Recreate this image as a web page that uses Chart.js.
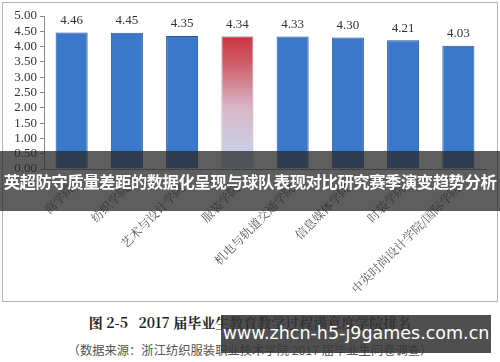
<!DOCTYPE html>
<html lang="zh-CN">
<head>
<meta charset="UTF-8">
<title>学院排名</title>
<script src="https://cdn.jsdelivr.net/npm/chart.js"></script>
<style>
  html, body { margin: 0; padding: 0; background: #fff; }
  body { width: 500px; height: 362px; position: relative; overflow: hidden; font-family: "Noto Sans CJK SC", sans-serif; }
  .frame { position: absolute; left: 2px; top: 2px; width: 494px; height: 298px; border: 1px solid #b5b5b5; }
  .frame canvas { position: absolute; left: 0; top: 0; }
  .banner { position: absolute; left: 0; top: 151px; width: 500px; height: 60px; background: rgba(40,40,40,0.75);
            color: #fff; font-weight: bold; font-size: 16.4px; line-height: 60px; text-align: center; white-space: nowrap; letter-spacing: -0.5px; }
  .caption { position: absolute; left: 0; top: 312px; width: 500px; text-align: center; font-family: "Noto Serif CJK SC", "Liberation Serif", "Noto Sans CJK SC", serif;
             font-weight: bold; font-size: 14px; color: #222; white-space: nowrap; }
  .source { position: absolute; left: 0; top: 341px; width: 500px; text-align: center; font-size: 12.3px; color: #555; white-space: nowrap; }
  .mark { position: absolute; left: 221px; top: 315px; width: 270px; height: 38px; background: rgba(55,55,55,0.88);
          color: #fff; font-family: "DejaVu Sans", sans-serif; font-size: 17.5px; line-height: 36px; text-align: center; white-space: nowrap; }
</style>
</head>
<body>
<div class="frame"><canvas id="chart" width="494" height="298"></canvas></div>
<div class="banner">英超防守质量差距的数据化呈现与球队表现对比研究赛季演变趋势分析</div>
<div class="caption">图 2-5&nbsp;&nbsp;&nbsp;2017 届毕业生教育教学过程满意度学院排名</div>
<div class="source">（数据来源：浙江纺织服装职业技术学院 2017 届毕业生问卷调查）</div>
<div class="mark">www.zhcn-h5-j9games.com.cn</div>
<script>
// 学院及满意度得分
const colleges = ['商学院', '纺织学院', '艺术与设计学院', '服装学院', '机电与轨道交通学院', '信息媒体学院', '时装学院', '中英时尚设计学院/国际学院'];
const scores = [4.46, 4.45, 4.35, 4.34, 4.33, 4.30, 4.21, 4.03];
const yTicks = [0, 0.5, 1, 1.5, 2, 2.5, 3, 3.5, 4, 4.5, 5];
const highlight = 3;

const serif = '"Liberation Serif", "Noto Serif CJK SC", serif';

// 柱顶数值
const valueLabels = {
  id: 'valueLabels',
  afterDatasetsDraw(chart) {
    const ctx = chart.ctx;
    const meta = chart.getDatasetMeta(0);
    ctx.save();
    ctx.font = '13px ' + serif;
    ctx.fillStyle = '#333';
    ctx.textAlign = 'center';
    ctx.textBaseline = 'middle';
    meta.data.forEach((bar, i) => {
      ctx.fillText(scores[i].toFixed(2), bar.x, bar.y - 12);
    });
    ctx.restore();
  }
};

function barColor(context) {
  const chart = context.chart;
  const area = chart.chartArea;
  if (!area) return '#3a78c9';
  const c = chart.ctx;
  if (context.dataIndex === highlight) {
    const g = c.createLinearGradient(0, area.top, 0, area.bottom);
    g.addColorStop(0, '#c8141e');
    g.addColorStop(0.3, '#cf5a66');
    g.addColorStop(0.6, '#d9b7c8');
    g.addColorStop(1, '#c3d8f2');
    return g;
  }
  const el = context.element;
  if (el && el.width) {
    const x0 = el.x - el.width / 2;
    const g = c.createLinearGradient(x0, 0, x0 + el.width, 0);
    g.addColorStop(0, '#2d62ad');
    g.addColorStop(0.2, '#4383d4');
    g.addColorStop(0.8, '#3a78c9');
    g.addColorStop(1, '#24549b');
    return g;
  }
  return '#3a78c9';
}

new Chart(document.getElementById('chart'), {
  type: 'bar',
  data: {
    labels: colleges,
    datasets: [{
      data: scores,
      backgroundColor: barColor,
      borderColor: (ctx) => ctx.dataIndex === highlight ? '#b8a0b0' : '#24549b',
      borderWidth: 1,
      categoryPercentage: 1,
      barPercentage: 0.58
    }]
  },
  options: {
    responsive: false,
    animation: false,
    layout: { padding: { top: 13, right: 11, left: 0, bottom: 0 } },
    plugins: { legend: { display: false }, tooltip: { enabled: false } },
    scales: {
      y: {
        min: 0,
        max: 5,
        afterBuildTicks(scale) { scale.ticks = yTicks.map(v => ({ value: v })); },
        afterFit(scale) { scale.width = 41; },
        grid: { display: true, drawOnChartArea: false, drawTicks: true, tickLength: 4, color: '#888' },
        border: { color: '#888' },
        ticks: {
          color: '#333',
          padding: 3,
          autoSkip: false,
          font: { family: serif, size: 13 },
          callback: (v) => Number(v).toFixed(2)
        }
      },
      x: {
        afterFit(scale) { scale.height = 132; },
        grid: { display: false },
        border: { color: '#888' },
        ticks: {
          color: '#555',
          minRotation: 45,
          maxRotation: 45,
          autoSkip: false,
          padding: 4,
          font: { family: '"Noto Serif CJK SC", "Noto Sans CJK SC", serif', size: 12 }
        }
      }
    }
  },
  plugins: [valueLabels]
});
</script>
</body>
</html>
